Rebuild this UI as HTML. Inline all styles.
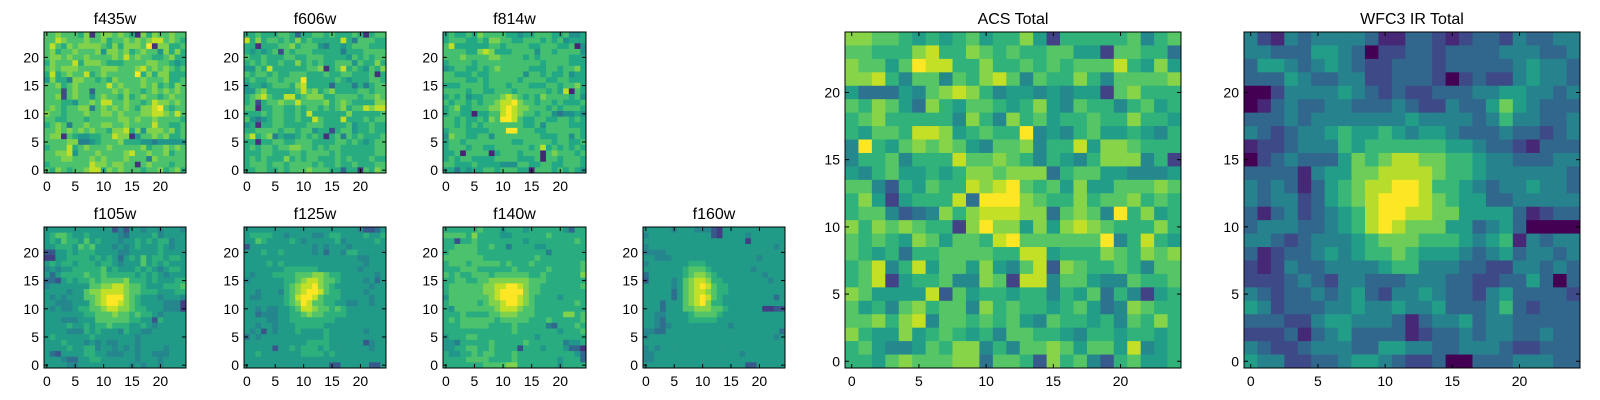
<!DOCTYPE html>
<html><head><meta charset="utf-8"><style>
html,body{margin:0;padding:0;background:#fff;}
svg{display:block;font-family:"Liberation Sans","DejaVu Sans",sans-serif;}
</style></head><body>
<svg id="fig" width="1600" height="400" viewBox="0 0 1600 400" xmlns="http://www.w3.org/2000/svg"></svg>
<script>
const tickValues=[0,5,10,15,20];
const panelTitles=["f435w","f606w","f814w","f105w","f125w","f140w","f160w","ACS Total","WFC3 IR Total"];
const viridisStops=["#440154","#482475","#414487","#355f8d","#2a788e","#21918c","#22a884","#44bf70","#7ad151","#bddf26","#fde725"];
// colour normalisation per panel (like vmin/vmax)
const normLow=[-1.5,-1.5,-1,-2,-2,-1.5,-2,-2.2,0];
const normHigh=[9,9,9,9,9,9,9,9,9];
// rows listed from y=24 (top) down to y=0
const f435w=["6676665706776765075766766","6687666766756676767886765","6865767777657577769077556","6756676667477675676647575","6776766766667686766556755","5766685777655566667766545","6767776666777666786767656","5856766856766666957577555","4755377665657666676667556","6675676666686766676756576","6661676626667676656767676","6671676646766575676656766","6665546676886676656877676","6765667736767676577896566","7665666766776766677887686","6655666566666776766766665","5676366766776676666866556","6676767676657785747776756","6770654455668770466767556","6666773345666755544344444","5666856766676666675667676","6677846667666678667667566","6667766676766676663766666","5666666687767766067666566","6576566788576766656675675"];
const f606w=["5565556652556656555650566","8575665657565555585366655","5505556675666435545666555","5454561656665555535556666","6556555665566655554656566","5656556557565655666465575","4465855555566705685654657","6566565566655565566555605","5655665666955555654555665","4554566657855552555353566","4467555556867567555566566","5678655885677755666656676","5615667668666675676555577","6605566556566565675668788","5556566556585555557555556","6434566556558655585556566","4505566555566655556455655","5566665665664551566455655","6856735445656505636565556","5505566556665555665654566","5656656677665656655555566","5556655566566665655555566","5656555756566555656555655","5666566566665655655655566","5566556566676665525506576"];
const f814w=["5655657666655455666556445","5666556577665566656564555","6855555566566665566655604","6666557875556666466566664","6667666677666656566666555","5666656666666666656666555","4566556567666665556656675","6655565566666646656556455","6666556566666566665566555","5556666566656665556656675","6666566556665666665658065","5656455666787656576666564","6566565667889766566565556","5675566677898776665656665","5665505566898766566434454","6656556576998655665566565","6656565666666655646666555","5666555566699666556666665","4766556646666666655566465","5665666666665566666566556","5666566556666665685656565","5560666605666566606766656","5656655556666555606656665","6655565555444665566556665","5535455665666550666565654"];
const f105w=["4444444444441314434434443","4566544544444324444534444","4546554645444344545455344","4455546564443434544454344","1144545554444334444454444","0044555545454245464554554","4545545554554344464545444","3434455555645444545434554","4245555655655555454543444","2214545565666675554544455","3444444466778876654445556","4444344677888876655544455","4343444667899976544434443","4433344467899876544443330","4343345566788776554443330","4444444556667665655434444","4443334446666665544154444","4444544545565554454344444","4444333545444354433444444","4544444454444444344444444","4445444343433444344444444","4444544553443434344443444","4214444554433344344333444","4443224455444444344434444","4444334444444443434434444"];
const f125w=["4444444444444444444431124","4555544344443345544445445","4465444454344444534444454","1444444444443434443444444","4445445444443424435544444","4444444444444444444433444","4444545444444444444443444","4444444555555444444434444","4344455556667765544444434","3444444556788766544443424","4444444567889765444444344","4434443567899865544443444","4334444568998655544444344","4444444567986655443344344","4434334456887665654444444","4423334455676655554444444","4444334455555555444444444","4434434445555544444444444","4341434445444454444443444","2434444444444454444444444","4444444444455554444441344","4444414454555454444444344","4454444444555545444444444","4444444444444444444444444","4444444444444441144444114"];
const f140w=["5555556555455545555554255","6666575555445555556555555","5515565555555545555555565","5566665565535555445555555","5666665555555555553555555","6666666555555555655555555","5666566666565556555555556","5556665555556555556555556","6565566656666665565555557","5566556677777776665555555","5666666778899876655555556","5666666778999976655555555","4666666678999876555545555","5666665677899876555555565","5466666667888766555555555","5556555566777666555557756","5656666665666665556555556","5556666655556555553255565","5555555555556555555545556","4555665555555555455555555","4435555565555565555553445","4455665565555155545554220","5445565665556555555555542","5555666655556555555545552","5555555666677555555545555"];
const f160w=["4444434443331044444444444","3444444444441044443444444","4444444444444444440444444","3444444444444444444444434","3333444444444444444444444","4433344444444444444434444","3444444455544444444444444","4444444566654444444344444","2444444567765444444443444","1444434678875544444444344","4444434678986554444444444","4444424678876554444444444","4444424678986544444444424","4442444678975544444444444","4442444667776654444440011","4433444456666544444444444","4432444455555444444444444","4432344444444443444444444","3322444444444444444444442","3444444444444444444444434","4444444444444444444444444","3434444444444444444444444","3344444444444444434444444","3344444444444444444444444","4444444444444444441144444"];
const acsTotal=["7766545456455740555556356","6655578557656556644066552","7664698855755656566685474","7785366365786365575366667","4222436787534434344067555","6576427546654574365535645","5675555537537564556557554","5466588745655934356445435","3954676764366735584776555","3556355586676535435777350","4356445457767772566443334","6631546558789656474466676","5740455582999765575667565","5663123757888772676395745","7576765507977474787655575","6565476466589666666935854","6545255666655884555765767","5683584664743681765565366","5680455633760883664336556","7644448164554553546253045","6453675663756554564237655","6675783665656436554536575","7544745654536655435545545","5643346577353667646648345","5546766677266517563156445"];
const wfc3Total=["4214344443113321233243344","4433355430223323333444334","3554345432233323333345443","3335433442233320232245443","0024444543232233344554434","0134334433343224335754333","3334344444445444434644334","4323445655654554333433234","1223444656666665543321333","0234333576788776654433344","3333145577888876654444443","4343135678899866543445443","4344235678999876553344444","3134234568998877555531233","3444334568987775534530000","4432344456777666545614344","3123345456676555434534434","2124334444566444332244343","2223432443334443322335303","4323343453244543324533332","5423334454454453334632333","3332245544431344534433333","2223134533331233434433433","4322344433554433444322333","5442233455432230033344433"];
const panelData=[f435w,f606w,f814w,f105w,f125w,f140w,f160w,acsTotal,wfc3Total];
const layout=[[44,32,142,141],[244,32,142,141],[443,32,143,141],[44,227,142,141],[244,227,142,141],[443,227,143,141],[643,227,142,141],[845,32,336,336],[1244,32,336,336]];
function hex2rgb(h){return [1,3,5].map(i=>parseInt(h.substr(i,2),16));}
const stopsRgb=viridisStops.map(hex2rgb);
function viridis(t){t=Math.max(0,Math.min(1,t));const s=t*(stopsRgb.length-1);const i=Math.min(Math.floor(s),stopsRgb.length-2);const f=s-i;const a=stopsRgb[i],b=stopsRgb[i+1];return "rgb("+a.map((v,k)=>Math.round(v+(b[k]-v)*f)).join(",")+")";}
const NS="http://www.w3.org/2000/svg";
const svg=document.getElementById("fig");
function mk(tag,attrs,parent){const e=document.createElementNS(NS,tag);for(const k in attrs)e.setAttribute(k,attrs[k]);parent.appendChild(e);return e;}
panelData.forEach((rows,p)=>{
  const [x0,y0,w,h]=layout[p];
  const n=25, cw=w/n, ch=h/n;
  const xs=v=>x0+(v+0.5)*cw;
  const ys=v=>y0+(n-1-v+0.5)*ch;
  const g=mk("g",{},svg);
  
  
  rows.forEach((row,ri)=>{
    const yv=n-1-ri;
    for(let c=0;c<n;c++){
      const ch0=row[c]!==undefined?row[c]:row[row.length-1];
      const v=parseInt(ch0,10);
      const t=(v-normLow[p])/(normHigh[p]-normLow[p]);
      const r=mk("rect",{x:(xs(c)-cw/2).toFixed(2),y:(ys(yv)-ch/2).toFixed(2),width:(cw+0.4).toFixed(2),height:(ch+0.4).toFixed(2),fill:viridis(t)},g);
      
      
    }
  });
  const fr=mk("rect",{x:x0,y:y0,width:w,height:h,fill:"none",stroke:"#000","stroke-width":1},g);
  
  
  tickValues.forEach(t=>{
    const tx=xs(t), ty=ys(t);
    mk("line",{x1:tx,y1:y0+h,x2:tx,y2:y0+h-4,stroke:"#000"},g);
    mk("line",{x1:tx,y1:y0,x2:tx,y2:y0+4,stroke:"#000"},g);
    mk("line",{x1:x0,y1:ty,x2:x0+4,y2:ty,stroke:"#000"},g);
    mk("line",{x1:x0+w,y1:ty,x2:x0+w-4,y2:ty,stroke:"#000"},g);
    const xl=mk("text",{x:tx,y:y0+h+18,"text-anchor":"middle","font-size":14,fill:"#000"},g);
    xl.textContent=t;
    
    
    const yl=mk("text",{x:x0-5,y:ty+5,"text-anchor":"end","font-size":14,fill:"#000"},g);
    yl.textContent=t;
    
    
  });
  const tt=mk("text",{x:x0+w/2,y:y0-8,"text-anchor":"middle","font-size":16,fill:"#000"},g);
  tt.textContent=panelTitles[p];
  
  
});
</script>
</body></html>
